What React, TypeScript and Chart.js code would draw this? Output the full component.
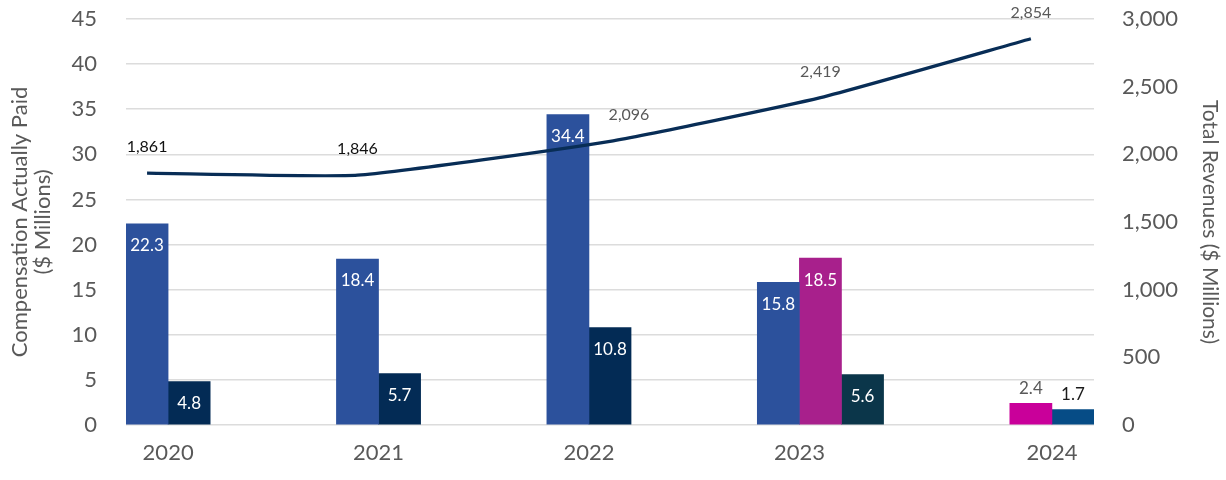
import React, { useEffect, useRef } from 'react';
import { Chart, registerables } from 'chart.js';

Chart.register(...registerables);

// ---------- data ----------
const years = ['2020', '2021', '2022', '2023', '2024'];
const firstPeo = [22.3, 18.4, 34.4, 15.8, null];
const secondPeo = [null, null, null, 18.5, 2.4];
const avgNeo = [4.8, 5.7, 10.8, 5.6, 1.7];
const revenue = [1861, 1846, 2096, 2419, 2854];
const leftTicks = [0, 5, 10, 15, 20, 25, 30, 35, 40, 45];
const rightTicks = [0, 500, 1000, 1500, 2000, 2500, 3000];

// ---------- layout (slot grid of the x axis) ----------
const SLOT_COUNT = 23;
const groupStart = [0, 5, 10, 15, 21];
const revenueSlot = [0, 5, 11, 16, 21];

// ---------- styles ----------
const FONT = 'Lato, "Open Sans", sans-serif';
const GRAY = '#595959';
const firstPeoColors = ['#2C519C', '#2C519C', '#2C519C', '#2C519C', '#2C519C'];
const secondPeoColors = ['#A8208C', '#A8208C', '#A8208C', '#A8208C', '#C9009A'];
const avgNeoColors = ['#032B55', '#032B55', '#032B55', '#0B364A', '#064C86'];
const outsideLabelColor = ['#404040', GRAY, '#1a1a1a'];
const revenueLabelColors = ['#111111', '#111111', GRAY, GRAY, GRAY];
const revenueLabelDx = [0, 0, 19, 0, 0];

const barSeries = [
  { label: 'PEO 1', values: firstPeo, colors: firstPeoColors },
  { label: 'PEO 2', values: secondPeo, colors: secondPeoColors },
  { label: 'Average Non-PEO NEOs', values: avgNeo, colors: avgNeoColors },
];

function buildBars() {
  const out = barSeries.map(() => ({ data: [] as any[], colors: [] as string[] }));
  const tickLabelSlot: Record<number, string> = {};
  years.forEach((yr, yi) => {
    let slot = groupStart[yi];
    const used: number[] = [];
    barSeries.forEach((s, si) => {
      const v = s.values[yi];
      if (v !== null && v !== undefined) {
        out[si].data.push({ x: String(slot), y: v });
        out[si].colors.push(s.colors[yi]);
        used.push(slot);
        slot++;
      }
    });
    const labelSlot = used.length > 1 ? used[1] : used[0];
    tickLabelSlot[labelSlot] = yr;
  });
  return { out, tickLabelSlot };
}

const valueLabels = {
  id: 'valueLabels',
  afterDatasetsDraw(chart: any) {
    const ctx = chart.ctx;
    ctx.save();
    chart.data.datasets.forEach((ds: any, di: number) => {
      const meta = chart.getDatasetMeta(di);
      if (meta.hidden) return;
      meta.data.forEach((el: any, i: number) => {
        const raw = ds.data[i];
        if (ds.type === 'line') {
          ctx.font = `16px ${FONT}`;
          ctx.fillStyle = revenueLabelColors[i];
          ctx.textAlign = 'center';
          ctx.textBaseline = 'middle';
          ctx.fillText(raw.y.toLocaleString('en-US'), el.x + revenueLabelDx[i], el.y - 26);
        } else {
          const h = el.base - el.y;
          ctx.font = `17px ${FONT}`;
          ctx.textAlign = 'center';
          ctx.textBaseline = 'middle';
          const txt = raw.y.toFixed(1);
          if (h >= 30) {
            ctx.fillStyle = '#ffffff';
            ctx.fillText(txt, el.x, el.y + 22);
          } else {
            ctx.fillStyle = outsideLabelColor[di];
            ctx.fillText(txt, el.x, el.y - 15);
          }
        }
      });
    });
    ctx.restore();
  },
};

export default function App() {
  const ref = useRef<HTMLCanvasElement | null>(null);

  useEffect(() => {
    if (!ref.current) return;
    const { out, tickLabelSlot } = buildBars();
    const slotLabels = Array.from({ length: SLOT_COUNT }, (_, i) => String(i));

    const barDatasets = barSeries.map((s, si) => ({
      type: 'bar' as const,
      label: s.label,
      data: out[si].data,
      backgroundColor: out[si].colors,
      borderWidth: 0,
      yAxisID: 'y',
      grouped: false,
      barPercentage: 1,
      categoryPercentage: 1,
      order: 2,
    }));

    const lineDataset = {
      type: 'line' as const,
      label: 'Total Revenues',
      data: revenue.map((v, i) => ({ x: String(revenueSlot[i]), y: v })),
      borderColor: '#082D56',
      backgroundColor: '#082D56',
      borderWidth: 3.2,
      pointRadius: 0,
      tension: 0.15,
      yAxisID: 'y1',
      order: 0,
    };

    const noVPad = (scale: any, w: number) => {
      scale.width = w;
      scale.paddingTop = 8;
      scale.paddingBottom = 8;
    };

    const chart = new Chart(ref.current, {
      type: 'bar',
      data: { labels: slotLabels, datasets: [...barDatasets, lineDataset] as any },
      plugins: [valueLabels],
      options: {
        animation: false,
        responsive: true,
        maintainAspectRatio: false,
        layout: { padding: { top: 19, bottom: 0, left: 0, right: 0 } },
        plugins: { legend: { display: false }, tooltip: { enabled: false } },
        scales: {
          x: {
            type: 'category',
            offset: true,
            grid: { display: false },
            border: { display: false },
            ticks: {
              autoSkip: false,
              maxRotation: 0,
              minRotation: 0,
              labelOffset: -21,
              padding: 7,
              color: GRAY,
              font: { family: FONT, size: 22 },
              callback: (_v: any, idx: number) => tickLabelSlot[idx] ?? '',
            },
            afterFit: (scale: any) => {
              scale.height = 55;
              scale.paddingLeft = 0;
              scale.paddingRight = 0;
            },
          },
          y: {
            position: 'left',
            min: 0,
            max: 45,
            afterBuildTicks: (scale: any) => {
              scale.ticks = leftTicks.map((v) => ({ value: v }));
            },
            grid: { color: '#DCDCDC', lineWidth: 1.6, drawTicks: false },
            border: { display: false },
            ticks: { padding: 29, color: GRAY, font: { family: FONT, size: 22 } },
            title: {
              display: true,
              text: ['Compensation Actually Paid', '($ Millions)'],
              color: GRAY,
              font: { family: FONT, size: 22, lineHeight: 1.05 },
              padding: { top: 8.5, bottom: 0 },
            },
            afterFit: (scale: any) => noVPad(scale, 126),
          },
          y1: {
            position: 'right',
            min: 0,
            max: 3000,
            afterBuildTicks: (scale: any) => {
              scale.ticks = rightTicks.map((v) => ({ value: v }));
            },
            grid: { display: false, drawTicks: false },
            border: { display: false },
            ticks: {
              padding: 28,
              color: GRAY,
              font: { family: FONT, size: 22 },
              callback: (v: any) => Number(v).toLocaleString('en-US'),
            },
            title: {
              display: true,
              text: 'Total Revenues ($ Millions)',
              color: GRAY,
              font: { family: FONT, size: 21 },
              padding: { top: 3.4, bottom: 0 },
            },
            afterFit: (scale: any) => noVPad(scale, 132),
          },
        },
      } as any,
    });
    return () => chart.destroy();
  }, []);

  return (
    <div style={{ position: 'fixed', left: 0, top: 0, width: '1226px', height: '480px', background: '#fff' }}>
      <canvas ref={ref} />
    </div>
  );
}
